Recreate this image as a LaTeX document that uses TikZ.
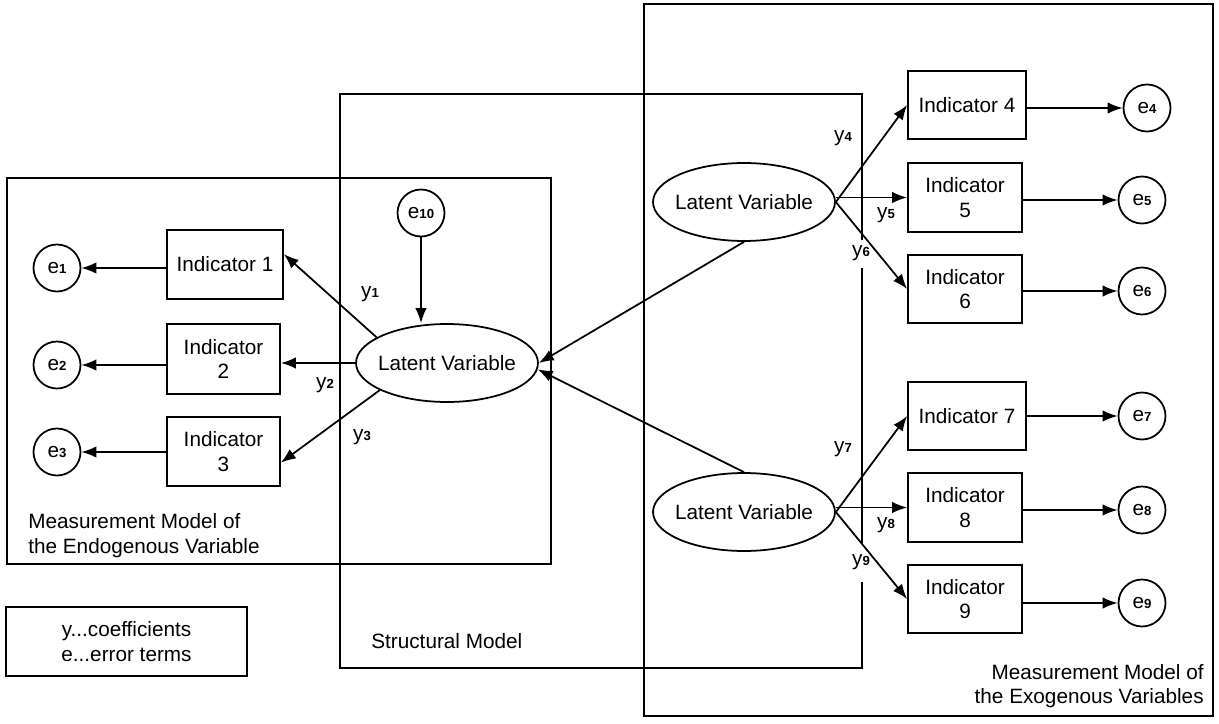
\documentclass[tikz,border=0pt]{standalone}
\usepackage{fontspec}
\setmainfont{Liberation Sans}
\usetikzlibrary{arrows.meta,shapes.geometric}
\newcommand{\ssub}[1]{{\fontsize{7.5}{7.5}\selectfont\bfseries #1}}
\begin{document}
\begin{tikzpicture}[x=0.02cm,y=-0.02cm,
  every node/.style={font=\fontsize{11.8}{14}\selectfont},
  ln/.style={line width=1pt},
  arr/.style={ln,-{Latex[length=8.5pt,width=6.5pt]}},
  ind/.style={draw,ln,minimum width=2.28cm,minimum height=1.38cm,align=center,inner sep=0pt},
  err/.style={draw,ln,circle,minimum size=0.94cm,inner sep=0pt},
  lat/.style={draw,ln,ellipse,minimum width=3.64cm,minimum height=1.56cm,inner sep=0pt},
  lab/.style={inner sep=0pt}
]
\useasboundingbox (0,0) rectangle (1219,723);

% group boxes
\draw[ln] (7,178) rectangle (551,564);
\draw[ln] (644,4) rectangle (1213,716);
\draw[ln] (862,240) -- (862,94) -- (340,94) -- (340,668) -- (862,668) -- (862,582)
          (862,543) -- (862,268);

% endogenous side
\node[err] (e1) at (57,268) {e\ssub{1}};
\node[err] (e2) at (57,365) {e\ssub{2}};
\node[err] (e3) at (57,452) {e\ssub{3}};
\node[ind,minimum width=2.32cm] (ind1) at (225,264.5) {Indicator 1};
\node[ind,minimum width=2.26cm,minimum height=1.4cm] (ind2) at (223.5,359) {Indicator\\2};
\node[ind,minimum width=2.26cm] (ind3) at (223.5,451.5) {Indicator\\3};
\node[lat] (L0) at (447,363) {\makebox[0pt]{Latent Variable}};
\node[err] (e10) at (421,213) {e\ssub{10}};

% exogenous side
\node[lat] (U) at (744,202) {\makebox[0pt]{Latent Variable}};
\node[lat] (D) at (744,512) {\makebox[0pt]{Latent Variable}};
\node[ind,minimum width=2.36cm,minimum height=1.36cm] (ind4) at (967,105) {Indicator 4};
\node[ind] (ind5) at (965,197.5) {Indicator\\5};
\node[ind,minimum height=1.36cm] (ind6) at (965,289) {Indicator\\6};
\node[ind,minimum width=2.36cm,minimum height=1.36cm] (ind7) at (967,416) {Indicator 7};
\node[ind] (ind8) at (965,507.5) {Indicator\\8};
\node[ind,minimum height=1.36cm] (ind9) at (965,599) {Indicator\\9};
\node[err] (e4) at (1147,108) {e\ssub{4}};
\node[err] (e5) at (1142,200) {e\ssub{5}};
\node[err] (e6) at (1142,291) {e\ssub{6}};
\node[err] (e7) at (1142,416) {e\ssub{7}};
\node[err] (e8) at (1142,510) {e\ssub{8}};
\node[err] (e9) at (1142,603) {e\ssub{9}};

% coefficient labels
\node[lab] (y1) at (370,294) {y\ssub{1}};
\node[lab] (y2) at (325,385) {y\ssub{2}};
\node[lab] (y3) at (362,437) {y\ssub{3}};
\node[lab] (y4) at (843,138) {y\ssub{4}};
\node[lab] (y5) at (886,215) {y\ssub{5}};
\node[lab] (y6) at (861,253) {y\ssub{6}};
\node[lab] (y7) at (843,449) {y\ssub{7}};
\node[lab] (y8) at (886,525) {y\ssub{8}};
\node[lab] (y9) at (861,562) {y\ssub{9}};

% texts
\node[anchor=west,align=left,inner sep=0pt] (endolab) at (28,535.5) {Measurement Model of\\the Endogenous Variable};
\node[anchor=west,inner sep=0pt] (structlab) at (371,641) {Structural Model};
\node[anchor=east,align=right,inner sep=0pt] (exolab) at (1204,686) {Measurement Model of\\the Exogenous Variables};
\node[draw,ln,minimum width=4.82cm,minimum height=1.38cm,align=center,inner sep=0pt] (legend) at (126.5,641.5) {y...coefficients\\e...error terms};

% connectors, endogenous
\draw[arr] (e10.south) -- (L0.north -| e10.south);
\draw[arr] (L0.160) -- (ind1.10);
\draw[arr] (L0.west) -- (ind2.east |- L0.west);
\draw[arr] (L0.202) -- (ind3.-11);
\draw[arr] (ind1.west |- e1) -- (e1);
\draw[arr] (ind2.west |- e2) -- (e2);
\draw[arr] (ind3.west |- e3) -- (e3);

% connectors, structural
\draw[arr] (U.south) -- (L0.east);
\draw[arr] (D.north) -- (L0.-4);

% connectors, exogenous
\draw[arr] (U.east) -- (ind4.west);
\draw[arr] (U.east |- ind5.west) -- (ind5.west);
\draw[arr] (U.east) -- (ind6.west);
\draw[arr] (D.east) -- (ind7.west);
\draw[arr] (D.east |- ind8.west) -- (ind8.west);
\draw[arr] (D.east) -- (ind9.west);
\draw[arr] (ind4.east |- e4) -- (e4);
\draw[arr] (ind5.east |- e5) -- (e5);
\draw[arr] (ind6.east |- e6) -- (e6);
\draw[arr] (ind7.east |- e7) -- (e7);
\draw[arr] (ind8.east |- e8) -- (e8);
\draw[arr] (ind9.east |- e9) -- (e9);
\end{tikzpicture}
\end{document}
